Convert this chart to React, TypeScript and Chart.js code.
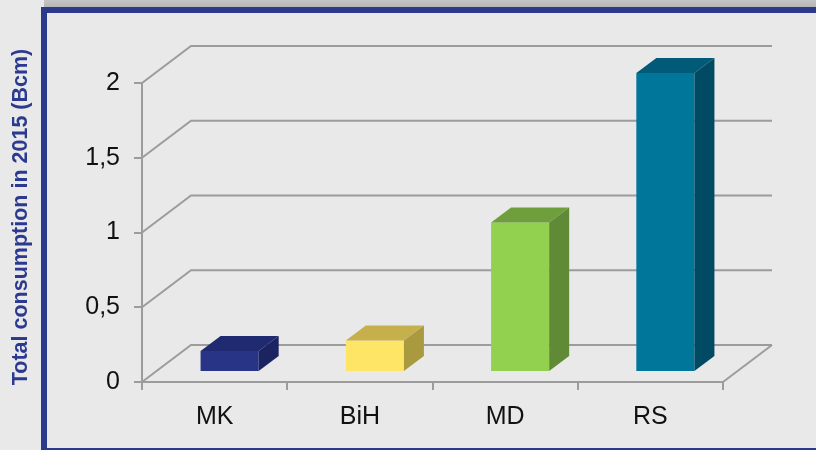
import React, { useEffect, useRef } from 'react';
import { Chart, registerables } from 'chart.js';

Chart.register(...registerables);

// ---- data ----
const categories = ['MK', 'BiH', 'MD', 'RS'];
const consumption = [0.14, 0.21, 1.0, 2.0];
const yTickValues = [0, 0.5, 1, 1.5, 2];
const axisTitle = 'Total consumption in 2015 (Bcm)';

// ---- styles ----
const frontColors = ['#283486', '#ffe566', '#92d050', '#00779a'];
const topColors = ['#1f2a70', '#c6b04c', '#6e9f3c', '#005a78'];
const sideColors = ['#1b2460', '#a99a40', '#608a35', '#004b63'];
const GRID = '#9c9c9c';
const WALL_DX = 49;
const WALL_DY = -37;
const BAR_SHIFT_X = 15;
const BAR_SHIFT_Y = -10;
const BAR_DX = 20;
const BAR_DY = -15;
const FONT = '"Liberation Sans", Arial, sans-serif';

const threeD = {
  id: 'threeD',
  beforeDatasetsDraw(chart: any) {
    const { ctx, chartArea, scales } = chart;
    const y = scales.y;
    ctx.save();
    ctx.strokeStyle = GRID;
    ctx.lineWidth = 2;
    yTickValues.forEach((v) => {
      const py = y.getPixelForValue(v);
      ctx.beginPath();
      ctx.moveTo(chartArea.left, py);
      ctx.lineTo(chartArea.left + WALL_DX, py + WALL_DY);
      ctx.lineTo(chartArea.right + WALL_DX, py + WALL_DY);
      ctx.stroke();
    });
    const p0 = y.getPixelForValue(0);
    ctx.beginPath();
    ctx.moveTo(chartArea.right, p0);
    ctx.lineTo(chartArea.right + WALL_DX, p0 + WALL_DY);
    ctx.stroke();
    ctx.restore();
    ctx.save();
    ctx.translate(BAR_SHIFT_X, BAR_SHIFT_Y);
  },
  afterDatasetsDraw(chart: any) {
    const { ctx } = chart;
    const meta = chart.getDatasetMeta(0);
    meta.data.forEach((bar: any, i: number) => {
      const { x, y, base, width } = bar.getProps(['x', 'y', 'base', 'width'], true);
      const xl = x - width / 2;
      const xr = x + width / 2;
      ctx.fillStyle = topColors[i];
      ctx.beginPath();
      ctx.moveTo(xl, y);
      ctx.lineTo(xl + BAR_DX, y + BAR_DY);
      ctx.lineTo(xr + BAR_DX, y + BAR_DY);
      ctx.lineTo(xr, y);
      ctx.closePath();
      ctx.fill();
      ctx.fillStyle = sideColors[i];
      ctx.beginPath();
      ctx.moveTo(xr, y);
      ctx.lineTo(xr + BAR_DX, y + BAR_DY);
      ctx.lineTo(xr + BAR_DX, base + BAR_DY);
      ctx.lineTo(xr, base);
      ctx.closePath();
      ctx.fill();
    });
    ctx.restore();
  },
  afterDraw(chart: any) {
    const { ctx } = chart;
    ctx.save();
    ctx.translate(21, 217);
    ctx.rotate(-Math.PI / 2);
    ctx.font = 'bold 21.5px ' + FONT;
    ctx.fillStyle = '#2b3990';
    ctx.textAlign = 'center';
    ctx.textBaseline = 'middle';
    ctx.fillText(axisTitle, 0, 0);
    ctx.restore();
  },
};

export default function App() {
  const ref = useRef<HTMLCanvasElement | null>(null);

  useEffect(() => {
    if (!ref.current) return;
    const chart = new Chart(ref.current, {
      type: 'bar',
      data: {
        labels: categories,
        datasets: [
          {
            data: consumption,
            backgroundColor: frontColors,
            borderWidth: 0,
            barPercentage: 0.4,
            categoryPercentage: 1,
            clip: false as any,
          },
        ],
      },
      options: {
        responsive: false,
        animation: false,
        devicePixelRatio: 1,
        layout: { padding: { top: 83, right: 93, bottom: 0, left: 0 } },
        plugins: { legend: { display: false }, tooltip: { enabled: false }, title: { display: false } },
        scales: {
          x: {
            afterFit: (s: any) => {
              s.height = 68;
            },
            grid: {
              offset: true,
              drawOnChartArea: false,
              drawTicks: true,
              tickLength: 8,
              color: GRID,
              lineWidth: 2,
            },
            border: { display: true, color: GRID, width: 2 },
            ticks: {
              color: '#111',
              font: { family: FONT, size: 25 },
              padding: 12,
            },
          },
          y: {
            min: 0,
            max: 2,
            afterFit: (s: any) => {
              s.width = 142;
            },
            grid: {
              drawOnChartArea: false,
              drawTicks: true,
              tickLength: 8,
              color: GRID,
              lineWidth: 2,
            },
            border: { display: true, color: GRID, width: 2 },
            ticks: {
              stepSize: 0.5,
              color: '#111',
              font: { family: FONT, size: 25 },
              padding: 14,
              callback: (v: any) => String(v).replace('.', ','),
            },
          },
        },
      },
      plugins: [threeD],
    });
    return () => chart.destroy();
  }, []);

  return (
    <div
      style={{
        position: 'absolute',
        left: 0,
        top: 0,
        width: 816,
        height: 450,
        overflow: 'hidden',
        background: '#e9e9e9',
      }}
    >
      <div
        style={{
          position: 'absolute',
          left: 44,
          top: 0,
          width: 800,
          height: 8,
          background: 'linear-gradient(#c4c4c4, #b4b4b4)',
        }}
      />
      <div
        style={{
          position: 'absolute',
          left: 41,
          top: 7,
          width: 900,
          height: 447,
          boxSizing: 'border-box',
          border: '6px solid #2b3a8a',
        }}
      />
      <canvas ref={ref} width={816} height={450} style={{ position: 'absolute', left: 0, top: 0 }} />
    </div>
  );
}
